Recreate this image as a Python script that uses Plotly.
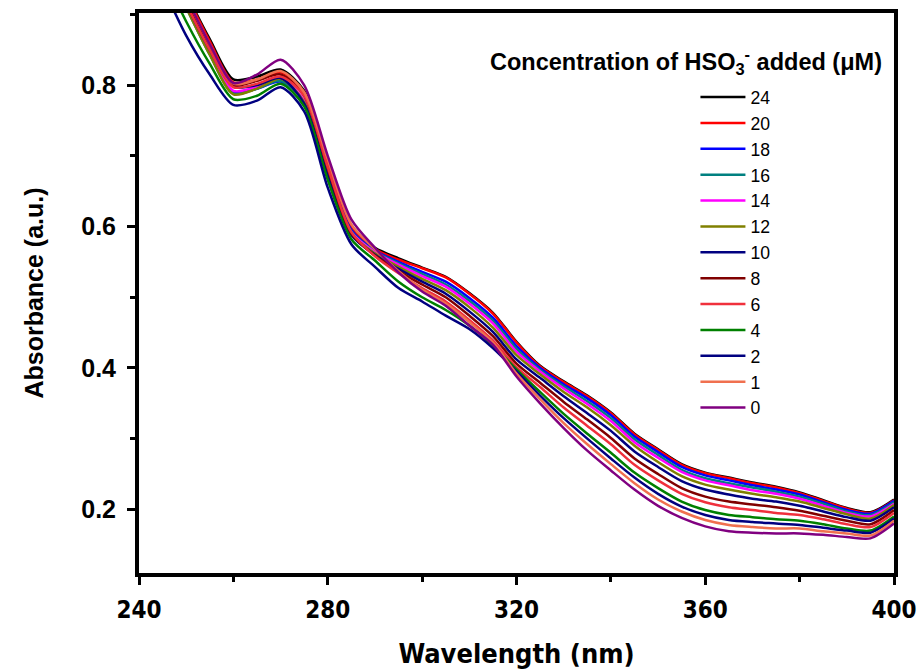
import plotly.graph_objects as go

wavelength = [245, 250, 255, 260, 265, 270, 275, 280, 285, 290, 295, 300, 305, 310, 315, 320,
              325, 330, 335, 340, 345, 350, 355, 360, 365, 370, 375, 380, 385, 390, 395, 400]

conc_labels = ["24", "20", "18", "16", "14", "12", "10", "8", "6", "4", "2", "1", "0"]

a24 = [1.000, 0.930, 0.865, 0.808, 0.812, 0.822, 0.792, 0.690, 0.598, 0.570, 0.555, 0.542, 0.529, 0.506, 0.478, 0.437,
       0.403, 0.381, 0.361, 0.337, 0.307, 0.285, 0.264, 0.252, 0.245, 0.238, 0.232, 0.224, 0.213, 0.202, 0.196, 0.214]
a20 = [0.998, 0.928, 0.862, 0.804, 0.808, 0.818, 0.790, 0.690, 0.598, 0.568, 0.553, 0.541, 0.528, 0.505, 0.477, 0.436,
       0.402, 0.380, 0.360, 0.336, 0.306, 0.284, 0.263, 0.251, 0.244, 0.237, 0.231, 0.223, 0.212, 0.201, 0.195, 0.213]
a18 = [0.985, 0.912, 0.845, 0.790, 0.795, 0.805, 0.778, 0.680, 0.595, 0.566, 0.550, 0.536, 0.522, 0.499, 0.471, 0.431,
       0.400, 0.377, 0.357, 0.333, 0.303, 0.281, 0.260, 0.248, 0.241, 0.234, 0.228, 0.221, 0.210, 0.199, 0.194, 0.212]
a16 = [0.982, 0.910, 0.843, 0.788, 0.795, 0.806, 0.776, 0.678, 0.593, 0.565, 0.548, 0.533, 0.518, 0.495, 0.467, 0.427,
       0.397, 0.374, 0.353, 0.329, 0.299, 0.277, 0.256, 0.244, 0.237, 0.231, 0.225, 0.218, 0.208, 0.197, 0.192, 0.210]
a14 = [0.988, 0.915, 0.848, 0.792, 0.798, 0.810, 0.778, 0.676, 0.592, 0.564, 0.546, 0.530, 0.515, 0.491, 0.463, 0.423,
       0.395, 0.371, 0.349, 0.325, 0.295, 0.273, 0.253, 0.241, 0.234, 0.227, 0.222, 0.215, 0.205, 0.195, 0.190, 0.208]
a12 = [0.982, 0.910, 0.843, 0.787, 0.795, 0.809, 0.776, 0.674, 0.590, 0.562, 0.543, 0.526, 0.510, 0.486, 0.457, 0.418,
       0.391, 0.366, 0.344, 0.319, 0.290, 0.267, 0.247, 0.235, 0.228, 0.222, 0.217, 0.211, 0.202, 0.193, 0.187, 0.206]
a10 = [0.988, 0.915, 0.850, 0.798, 0.800, 0.810, 0.774, 0.672, 0.588, 0.560, 0.540, 0.522, 0.505, 0.480, 0.451, 0.412,
       0.386, 0.360, 0.336, 0.311, 0.282, 0.260, 0.240, 0.228, 0.221, 0.215, 0.211, 0.205, 0.197, 0.189, 0.184, 0.203]
a8 = [0.992, 0.920, 0.855, 0.800, 0.806, 0.815, 0.785, 0.682, 0.590, 0.559, 0.537, 0.518, 0.500, 0.474, 0.445, 0.406,
      0.379, 0.352, 0.327, 0.301, 0.272, 0.250, 0.230, 0.218, 0.211, 0.207, 0.203, 0.198, 0.191, 0.184, 0.179, 0.199]
a6 = [0.988, 0.915, 0.850, 0.797, 0.802, 0.812, 0.785, 0.684, 0.592, 0.558, 0.534, 0.513, 0.494, 0.468, 0.439, 0.401,
      0.373, 0.344, 0.318, 0.292, 0.263, 0.241, 0.222, 0.210, 0.203, 0.199, 0.195, 0.192, 0.186, 0.179, 0.175, 0.195]
a4 = [0.960, 0.890, 0.830, 0.780, 0.785, 0.802, 0.770, 0.666, 0.582, 0.552, 0.522, 0.500, 0.482, 0.460, 0.432, 0.398,
      0.366, 0.335, 0.307, 0.280, 0.252, 0.230, 0.211, 0.199, 0.192, 0.189, 0.186, 0.184, 0.179, 0.173, 0.170, 0.190]
a2 = [0.940, 0.870, 0.815, 0.772, 0.778, 0.797, 0.763, 0.655, 0.575, 0.543, 0.513, 0.494, 0.474, 0.455, 0.428, 0.395,
      0.361, 0.329, 0.300, 0.272, 0.245, 0.222, 0.204, 0.192, 0.185, 0.182, 0.180, 0.178, 0.174, 0.170, 0.167, 0.187]
a1 = [0.995, 0.925, 0.858, 0.802, 0.808, 0.820, 0.790, 0.695, 0.603, 0.568, 0.537, 0.511, 0.491, 0.465, 0.436, 0.392,
      0.356, 0.322, 0.292, 0.264, 0.237, 0.214, 0.197, 0.185, 0.178, 0.175, 0.173, 0.173, 0.169, 0.166, 0.163, 0.184]
a0 = [0.995, 0.925, 0.858, 0.803, 0.815, 0.836, 0.800, 0.700, 0.610, 0.570, 0.535, 0.508, 0.488, 0.460, 0.433, 0.388,
      0.350, 0.315, 0.283, 0.255, 0.228, 0.205, 0.188, 0.176, 0.169, 0.167, 0.166, 0.166, 0.164, 0.161, 0.159, 0.180]

series = [a24, a20, a18, a16, a14, a12, a10, a8, a6, a4, a2, a1, a0]
colors = ["#000000", "#FF0000", "#0000FF", "#008080", "#FF00FF", "#808000", "#000080",
          "#800000", "#F0303C", "#008000", "#000080", "#F0704F", "#800080"]

fig = go.Figure()
for lab, ys, col in zip(conc_labels, series, colors):
    fig.add_trace(go.Scatter(x=wavelength, y=ys, mode="lines", name=lab,
                             line=dict(color=col, width=2.5, shape="spline", smoothing=0.8)))

bold = dict(family="Liberation Sans, Arial, sans-serif", color="black", weight="bold")
narrow = dict(family="Liberation Sans Narrow, Arial Narrow, DejaVu Sans Condensed, sans-serif",
              color="black", weight="bold")

fig.update_layout(
    width=921, height=672,
    margin=dict(l=139, r=27, t=13, b=99, autoexpand=False),
    paper_bgcolor="white", plot_bgcolor="white",
    showlegend=True,
    legend=dict(x=0.737, y=0.882, xanchor="left", yanchor="top",
                font=dict(family="Liberation Sans, Arial, sans-serif", size=17.6, color="black"),
                bgcolor="rgba(0,0,0,0)", itemwidth=45, tracegroupgap=0),
    annotations=[dict(
        text="Concentration of HSO<sub>3</sub><sup>-</sup> added (\u03bcM)",
        x=0.462, y=0.914, xref="paper", yref="paper", xanchor="left", yanchor="middle",
        showarrow=False, font=dict(size=23.5, **bold))],
)

fig.update_xaxes(
    range=[240, 400], tick0=240, dtick=40, ticks="outside", ticklen=8, tickwidth=3,
    tickcolor="black", showline=True, linewidth=4, linecolor="black", mirror=True, automargin=False,
    showgrid=False, zeroline=False, tickfont=dict(size=24, **narrow), ticklabelstandoff=4,
    minor=dict(ticks="outside", ticklen=5, tickwidth=3, dtick=20, tick0=240, tickcolor="black", showgrid=False),
    title=dict(text="Wavelength (nm)", font=dict(size=27, **narrow), standoff=22),
)
fig.update_yaxes(
    range=[0.11, 0.902], tick0=0.2, dtick=0.2, ticks="outside", ticklen=8, tickwidth=3,
    tickcolor="black", showline=True, linewidth=4, linecolor="black", mirror=True, automargin=False,
    showgrid=False, zeroline=False, tickfont=dict(size=25, **bold), ticklabelstandoff=6,
    minor=dict(ticks="outside", ticklen=5, tickwidth=3, dtick=0.1, tick0=0.1, tickcolor="black", showgrid=False),
    title=dict(text="Absorbance (a.u.)", font=dict(size=25, **bold), standoff=31),
)

fig.write_html("out.html")
